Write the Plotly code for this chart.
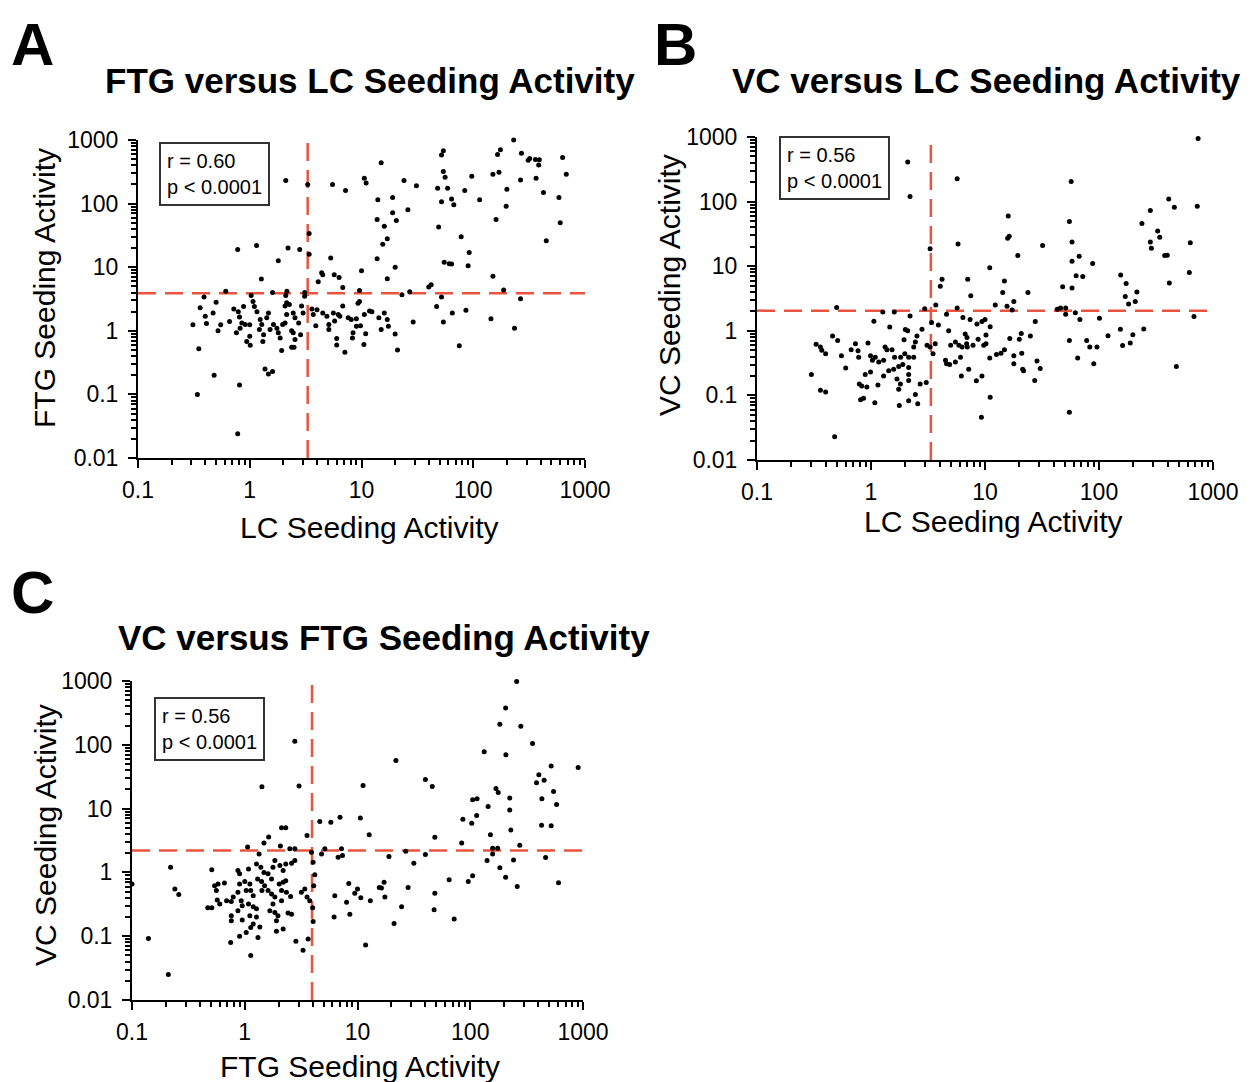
import plotly.graph_objects as go

# ---------------- Panel A: FTG vs LC ----------------
lc_a = [2.1, 3.3, 5.5, 7.2, 3.4, 3.4, 0.78, 1.15, 2.2, 2.8, 1.8, 5.3, 1.27, 4.4, 4.5, 5.7, 6.3, 4.1, 6.8,
        0.61, 0.39, 1.03, 1.6, 2.15, 2.1, 3.1, 3.1,
        230, 15, 10.6, 11, 54, 52, 54, 56, 24, 31, 48, 59, 97, 84, 175, 165, 150, 170, 270, 310, 320, 360,
        390, 385, 630, 680, 265, 365, 200, 425, 585, 14, 19, 52, 64, 67, 114, 197, 26, 19, 20.5, 13.8, 16,
        49, 160, 600, 450, 17, 15.5, 78, 92, 13.8, 10, 20, 17, 55, 61, 64, 90, 150, 42, 40, 9.6, 187, 23,
        27, 52, 265,
        0.36, 0.5, 0.4, 0.41, 0.47, 0.31, 0.55, 0.52, 0.66, 0.72, 0.79, 0.88, 1.07, 1.1, 1.16, 0.81, 0.85,
        0.91, 1.0, 0.76, 0.82, 0.94, 1.01, 1.0, 1.24, 1.28, 1.22, 1.33, 1.31, 1.42, 1.47, 1.63, 1.75, 1.52,
        1.8, 1.87, 1.97, 2.07, 2.14, 2.07, 2.14, 2.26, 2.45, 2.54, 2.37, 2.45, 2.54, 2.37, 2.49, 1.93, 2.74,
        2.85, 2.91, 3.0, 0.35, 0.48, 0.34, 0.81, 1.37, 1.47, 1.6, 0.78,
        3.6, 3.7, 4.0, 3.9, 4.5, 4.9, 5.1, 5.1, 5.6, 5.75, 6.2, 6.4, 6.8, 6.0, 6.0, 7.1, 7.6, 8.1, 8.4, 8.3,
        9.0, 9.3, 9.6, 9.0, 10.6, 9.8, 10.9, 10.5, 11.8, 12.4, 14.3, 16, 17, 17.4, 15, 20, 21, 29, 47, 54,
        65, 75, 86, 144, 234]
ftg_a = [230, 200, 200, 160, 34, 16, 19, 22, 20, 19, 12.6, 14, 6.5, 8.2, 7.6, 7.6, 6.9, 5.9, 4.8,
         4.2, 3.4, 3.6, 4.0, 4.2, 3.6, 4.0, 3.5,
         1000, 440, 250, 210, 680, 580, 320, 260, 230, 190, 175, 175, 270, 160, 700, 590, 290, 310, 620,
         480, 510, 495, 490, 405, 530, 290, 235, 250, 168, 150, 125, 115, 125, 107, 118, 96, 115, 91, 80,
         72, 54, 56, 44, 43, 56, 50, 26, 28, 23, 30, 17, 13.6, 8.8, 10, 6.6, 12, 11.3, 11.2, 10.5, 7.2,
         5.3, 4.9, 4.3, 4.4, 3.7, 4.1, 3.4, 3.2,
         2.3, 2.8, 1.7, 1.3, 1.9, 1.25, 1.25, 1.0, 1.4, 2.2, 2.0, 2.4, 2.9, 2.4, 2.0, 1.65, 1.33, 1.26,
         1.24, 0.93, 1.1, 0.68, 0.59, 0.82, 1.5, 1.26, 1.05, 0.87, 0.68, 1.6, 1.9, 1.26, 1.1, 1.05, 0.93,
         0.77, 1.26, 1.33, 1.8, 2.45, 2.75, 2.6, 1.9, 1.6, 1.0, 0.93, 0.73, 0.55, 0.55, 0.49, 1.33, 0.87,
         2.45, 1.9, 0.52, 0.2, 0.1, 0.14, 0.25, 0.21, 0.23, 0.024,
         2.2, 1.8, 2.15, 1.2, 1.9, 1.7, 1.26, 1.05, 1.9, 1.42, 1.8, 1.7, 2.45, 0.76, 0.6, 0.46, 1.6, 1.5,
         0.93, 0.77, 1.18, 2.7, 2.9, 1.55, 1.8, 1.2, 0.9, 0.61, 2.05, 2.0, 1.6, 1.9, 1.5, 1.18, 1.05,
         0.89, 0.5, 1.38, 2.4, 1.38, 1.9, 0.58, 2.1, 1.55, 1.1]

# ---------------- Panel B: VC vs LC ----------------
lc_b = [2.1, 2.2, 0.5, 1.27, 1.6, 2.2, 1.06, 1.46, 2.0, 2.1, 1.95, 0.46, 0.51, 0.33, 0.36, 0.37, 0.4,
        0.55, 0.67, 0.73, 0.77, 0.78, 0.94, 0.99, 1.03, 1.09, 1.17, 1.29, 1.33, 1.38, 1.53, 1.61, 1.82,
        1.98, 2.14, 1.9, 2.14, 0.6, 0.3, 0.89, 0.99, 1.29, 1.43, 1.58, 1.75, 2.14, 2.14, 1.69, 1.81, 1.75,
        0.79, 0.83, 0.92, 1.15, 0.36, 0.4, 0.81, 0.86, 1.08, 1.77, 2.14, 0.48,
        5.7, 5.8, 3.3, 16, 15.8, 16.3, 32, 19.4, 11, 4.2, 4.05, 7.05, 7.5, 14.8, 14.3, 23.8, 48, 3.7, 2.96,
        5.7, 12.3, 15.6, 17.9, 17.3, 43, 46, 51, 4.6, 3.4, 3.9, 6.4, 7.4, 8.5, 9.4, 10, 11.1, 27.6, 2.8,
        4.8, 6.7, 6.95, 8.7, 10.2, 10.2, 20.8, 20, 16.5, 25, 2.53, 2.45, 2.37, 3.1, 3.3, 3.66, 5.0, 5.5,
        5.9, 6.3, 6.9, 7.0, 7.85, 9.75, 3.5, 2.37, 11, 12.6, 13.8, 14.8, 17.9, 17.9, 21, 21.4, 21.8, 28.6,
        30.5, 27.3, 4.5, 4.6, 4.9, 5.5, 6.1, 7.2, 6.2, 8.4, 9.4, 2.7, 3.05, 2.45, 2.57, 11.1, 9.3,
        740, 57, 55, 58, 58, 67, 88, 63, 72, 58, 51, 62, 68, 101, 55, 78, 83, 96, 65, 90, 120, 55, 155, 173,
        170, 182, 215, 208, 154, 161, 188, 198, 247, 238, 282, 282, 288, 327, 341, 377, 397, 409, 458, 414,
        477, 728, 632, 620, 681]
vc_b = [410, 120, 2.3, 1.95, 1.95, 1.7, 1.4, 1.15, 1.05, 1.0, 0.73, 0.83, 0.71, 0.62, 0.56, 0.5, 0.44,
        0.41, 0.51, 0.63, 0.49, 0.39, 0.65, 0.41, 0.35, 0.39, 0.33, 0.35, 0.56, 0.51, 0.51, 0.39, 0.39,
        0.44, 0.39, 0.3, 0.27, 0.265, 0.21, 0.21, 0.23, 0.2, 0.24, 0.255, 0.28, 0.21, 0.17, 0.18, 0.15,
        0.124, 0.15, 0.14, 0.135, 0.145, 0.12, 0.113, 0.086, 0.09, 0.077, 0.07, 0.083, 0.023,
        225, 22, 18.6, 60, 27, 29, 21, 14.6, 9.5, 6.3, 4.9, 6.3, 3.5, 5.9, 3.9, 3.9, 4.8, 2.5, 2.2, 2.25,
        2.5, 2.4, 2.85, 2.1, 2.15, 2.25, 2.25, 1.8, 1.34, 1.23, 1.6, 1.5, 1.27, 1.39, 1.5, 1.16, 1.39, 1.06,
        1.0, 0.89, 0.79, 0.74, 0.86, 0.63, 0.91, 0.74, 0.76, 0.83, 0.83, 0.67, 0.56, 0.6, 0.56, 0.63, 0.6,
        0.67, 0.6, 0.56, 0.63, 0.56, 0.6, 0.6, 0.44, 0.39, 0.38, 0.43, 0.45, 0.51, 0.41, 0.31, 0.45, 0.255,
        0.24, 0.34, 0.26, 0.17, 0.35, 0.31, 0.3, 0.33, 0.39, 0.255, 0.2, 0.168, 0.2, 0.15, 0.158, 0.103,
        0.074, 0.094, 0.046,
        950, 205, 49, 23.6, 11.9, 14.2, 11, 7.1, 6.9, 4.6, 1.8, 1.9, 1.5, 1.56, 0.71, 0.71, 0.56, 0.56, 0.38,
        0.31, 0.84, 0.055, 7.3, 5.4, 3.4, 2.6, 4.0, 2.85, 1.06, 0.59, 0.65, 0.87, 1.07, 46, 73, 23.6, 19,
        35, 28, 14.6, 14.8, 110, 82, 5.5, 0.28, 85, 23, 8, 1.66]

# ---------------- Panel C: VC vs FTG ----------------
ftg_c = [1.42, 2.12, 1.63, 1.48, 1.06, 1.34, 2.07, 0.1, 0.22, 0.24, 0.26, 0.14, 0.21, 0.51, 0.54, 0.58,
         0.66, 0.56, 0.47, 0.51, 0.57, 0.6, 0.69, 0.76, 0.79, 0.76, 0.76, 0.87, 0.9, 0.9, 0.87, 0.93, 0.95,
         0.87, 0.95, 0.9, 0.75, 1.0, 1.08, 1.11, 1.03, 1.13, 1.19, 1.08, 1.19, 1.27, 1.11, 1.03, 1.13, 1.19,
         1.13, 1.27, 1.39, 1.48, 1.3, 1.41, 1.5, 1.42, 1.27, 1.31, 1.36, 1.61, 1.73, 1.78, 1.85, 1.61, 1.73,
         1.85, 1.78, 1.67, 1.85, 1.91, 1.97, 1.91, 2.02, 2.12, 2.19, 2.12, 2.19,
         2.78, 3.03, 2.31, 3.57, 2.51, 2.78, 2.05, 2.31, 2.6, 2.78, 2.19, 2.31, 2.34, 2.55, 2.42, 2.6, 2.84,
         3.29, 3.65, 3.18, 3.41, 3.57, 3.77, 4.0, 3.91, 4.04, 4.18, 4.09, 4.04, 4.63, 5.8, 7.0, 4.8, 5.13,
         6.73, 7.21, 7.36, 6.29, 6.2, 8.0, 8.55, 8.37, 9.46, 10, 10.7, 10.6, 12.7, 11.2, 11.8, 13, 15.6,
         16.3, 17.2, 17.5, 19, 21.1, 21.9, 24.6, 26.8, 28.1, 31.6, 40, 46, 40, 48.5, 48.5, 47.8,
         72, 65, 84, 86, 103, 114, 105, 115, 96, 105, 133, 144, 151, 141, 158, 158, 175, 169, 177, 183, 206,
         207, 183, 206, 224, 224, 229, 242, 261, 258, 281, 275, 357, 387, 406, 452, 432, 429, 522, 548, 583,
         522, 466, 607, 906]
vc_c = [22, 5.0, 3.6, 2.9, 2.5, 1.95, 2.6, 0.66, 1.2, 0.55, 0.45, 0.092, 0.025, 1.1, 0.62, 0.66, 0.68,
        0.52, 0.28, 0.28, 0.37, 0.32, 0.36, 0.35, 0.41, 0.21, 0.175, 1.07, 0.95, 0.66, 0.49, 0.36, 0.3, 0.25,
        0.18, 0.1, 0.08, 0.72, 1.13, 0.66, 0.52, 0.52, 0.43, 0.32, 0.29, 0.27, 0.21, 0.114, 0.137, 0.155,
        0.05, 1.36, 1.2, 1.0, 0.79, 0.72, 0.62, 0.52, 0.2, 0.095, 0.14, 0.95, 0.79, 1.2, 1.53, 0.52, 0.46,
        0.41, 0.32, 0.25, 0.236, 0.175, 0.21, 0.12, 0.66, 0.52, 1.07, 0.36, 0.13,
        114, 22.6, 5.0, 3.8, 2.34, 2.34, 1.28, 1.36, 1.39, 1.53, 0.7, 0.74, 0.49, 0.42, 0.23, 0.22, 0.083,
        0.06, 0.09, 0.49, 0.55, 0.41, 0.36, 0.28, 2.07, 1.44, 0.92, 0.62, 0.17, 6.3, 6.1, 7.35, 1.95, 2.34,
        1.73, 2.34, 1.84, 0.43, 0.2, 0.34, 0.22, 0.67, 0.47, 0.55, 0.4, 7.1, 3.9, 23, 0.073, 0.36, 0.58,
        0.57, 0.7, 0.41, 1.77, 0.158, 57, 0.29, 2.15, 0.58, 1.39, 28.5, 22.3, 1.9, 3.56, 0.47, 0.26,
        0.186, 0.77, 2.9, 6.8, 5.9, 7.8, 13.8, 14.3, 0.72, 0.89, 78, 10.8, 3.9, 1.53, 2.4, 1.95, 2.4, 20.6,
        17.8, 210, 376, 70, 1.18, 0.84, 14.6, 9.5, 4.6, 1.57, 0.6, 980, 196, 2.67, 105, 25.5, 34, 27.8,
        14.3, 5.5, 46.6, 18.6, 11.6, 5.4, 1.71, 0.69, 44]

# thresholds (dashed cut-off lines)
lc_cut = [3.3, 3.35]
ftg_cut = [3.9, 3.95]
vc_cut = [2.05, 2.2]

stats = ["r = 0.60", "r = 0.56", "r = 0.56"]
pvals = ["p &lt; 0.0001", "p &lt; 0.0001", "p &lt; 0.0001"]

FONT = "Liberation Sans, Arial, Helvetica, sans-serif"
RED = "#E8553F"
OFF = 8                      # page body margin in the browser
W, H = 1250 - OFF, 1082 - OFF


def px(x):
    return (x - OFF) / W


def py(y):
    return 1 - (y - OFF) / H


fig = go.Figure()

panels = [
    dict(x=lc_a, y=ftg_a, vx=lc_cut[0], hy=ftg_cut[0], ax="x", ay="y"),
    dict(x=lc_b, y=vc_b, vx=lc_cut[1], hy=vc_cut[0], ax="x2", ay="y2"),
    dict(x=ftg_c, y=vc_c, vx=ftg_cut[1], hy=vc_cut[1], ax="x3", ay="y3"),
]

for p in panels:
    fig.add_trace(go.Scatter(x=[p["vx"], p["vx"]], y=[0.01, 1000], mode="lines",
                             line=dict(color=RED, width=2.5, dash="18px,9px"),
                             xaxis=p["ax"], yaxis=p["ay"], hoverinfo="skip", showlegend=False))
    fig.add_trace(go.Scatter(x=[0.1, 1000], y=[p["hy"], p["hy"]], mode="lines",
                             line=dict(color=RED, width=2.5, dash="18px,9px"),
                             xaxis=p["ax"], yaxis=p["ay"], hoverinfo="skip", showlegend=False,
                             cliponaxis=False))
    fig.add_trace(go.Scatter(x=p["x"], y=p["y"], mode="markers",
                             marker=dict(color="black", size=5),
                             xaxis=p["ax"], yaxis=p["ay"], showlegend=False, cliponaxis=False))

major_x = [0.1, 1, 10, 100, 1000]
major_y = [0.01, 0.1, 1, 10, 100, 1000]
minor_x = [m * 10 ** e for e in range(-1, 3) for m in range(2, 10)]
minor_y = [m * 10 ** e for e in range(-2, 3) for m in range(2, 10)]


def xaxis(domain, anchor):
    return dict(type="log", range=[-1, 3], domain=domain, anchor=anchor, automargin=False,
                tickvals=major_x, ticktext=["0.1", "1", "10", "100", "1000"],
                ticks="outside", ticklen=8, tickwidth=2, tickcolor="black",
                minor=dict(tickvals=minor_x, ticks="outside", ticklen=5, tickwidth=1.5, tickcolor="black",
                           showgrid=False),
                showline=True, linecolor="black", linewidth=2, showgrid=False, zeroline=False,
                tickfont=dict(family=FONT, size=23, color="black"), ticklabelstandoff=2)


def yaxis(domain, anchor):
    return dict(type="log", range=[-2, 3], domain=domain, anchor=anchor, automargin=False,
                tickvals=major_y, ticktext=["0.01", "0.1", "1", "10", "100", "1000"],
                ticks="outside", ticklen=8, tickwidth=2, tickcolor="black",
                minor=dict(tickvals=minor_y, ticks="outside", ticklen=5, tickwidth=1.5, tickcolor="black",
                           showgrid=False),
                showline=True, linecolor="black", linewidth=2, showgrid=False, zeroline=False,
                tickfont=dict(family=FONT, size=23, color="black"), ticklabelstandoff=5)


fig.update_layout(
    template="none",
    width=W, height=H, autosize=False,
    margin=dict(l=0, r=0, t=0, b=0, pad=0, autoexpand=False),
    paper_bgcolor="white", plot_bgcolor="white",
    xaxis=xaxis([px(138), px(585)], "y"),
    yaxis=yaxis([py(458), py(140)], "x"),
    xaxis2=xaxis([px(757), px(1213)], "y2"),
    yaxis2=yaxis([py(460), py(137)], "x2"),
    xaxis3=xaxis([px(132), px(583)], "y3"),
    yaxis3=yaxis([py(1000), py(681)], "x3"),
)

ann = []


def text(x, y, s, size, bold=False, angle=0, xanchor="center", yanchor="middle"):
    ann.append(dict(x=px(x), y=py(y), xref="paper", yref="paper", text=(f"<b>{s}</b>" if bold else s),
                    showarrow=False, xanchor=xanchor, yanchor=yanchor, textangle=angle,
                    font=dict(family=FONT, size=size, color="black")))


# panel letters
text(9, 9, "A", 60, bold=True, xanchor="left", yanchor="top")
text(652, 9, "B", 60, bold=True, xanchor="left", yanchor="top")
text(9, 592, "C", 60, bold=True, xanchor="left")
# titles
text(370, 80, "FTG versus LC Seeding Activity", 35, bold=True)
text(987, 80, "VC versus LC Seeding Activity", 35, bold=True)
text(384, 637, "VC versus FTG Seeding Activity", 35, bold=True)
# axis titles
text(369, 527, "LC Seeding Activity", 30)
text(993, 521, "LC Seeding Activity", 30)
text(360, 1066, "FTG Seeding Activity", 30)
text(45, 288, "FTG Seeding Activity", 30, angle=-90)
text(670, 285, "VC Seeding Activity", 30, angle=-90)
text(45, 835, "VC Seeding Activity", 30, angle=-90)

# stat boxes
for (cx, cy), r, p in zip([(214.5, 174), (834, 167.5), (209.5, 728.5)], stats, pvals):
    ann.append(dict(x=px(cx), y=py(cy), xref="paper", yref="paper", text=f"{r}<br>{p}",
                    showarrow=False, xanchor="center", yanchor="middle", align="left",
                    bordercolor="#333333", borderwidth=2, borderpad=6, bgcolor="white",
                    font=dict(family=FONT, size=20, color="black")))

fig.update_layout(annotations=ann)
fig.write_html("out.html")
